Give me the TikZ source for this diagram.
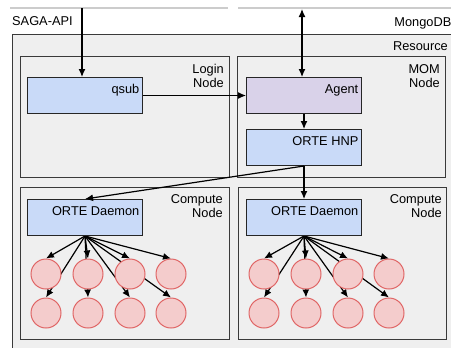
\documentclass[tikz,border=0pt]{standalone}
\usepackage{fontspec}
\setmainfont{Liberation Sans}
\usetikzlibrary{arrows.meta}
\pgfdeclarelayer{back}
\pgfdeclarelayer{mid}
\pgfsetlayers{back,mid,main}
\definecolor{panel}{HTML}{EFEFEF}
\definecolor{edge}{HTML}{3A3A3A}
\definecolor{bluebox}{HTML}{C9DAF8}
\definecolor{lilac}{HTML}{D9D2E9}
\definecolor{rosefill}{HTML}{F4CCCC}
\definecolor{rosedraw}{HTML}{E06666}
\definecolor{rule}{HTML}{CCCCCC}
\tikzset{
  frame/.style={draw=edge, fill=panel, line width=1bp},
  txt/.style={inner sep=0pt, align=right},
  procbox/.style={draw=black!85, fill=bluebox, line width=1bp, minimum width=115bp, minimum height=36bp, inner sep=0pt, anchor=north west},
  boxlbl/.style={label={[anchor=north east, inner sep=0pt, xshift=-3.5bp, yshift=-7.5bp]north east:#1}},
  proc/.style={draw=rosedraw, fill=rosefill, line width=1bp, circle, minimum size=30bp, inner sep=0pt},
  arr/.style={-{Latex[length=8bp,width=7bp]}, line width=1.2bp},
  darr/.style={{Latex[length=8bp,width=7bp]}-{Latex[length=8bp,width=7bp]}, line width=1.2bp},
  grayline/.style={draw=rule, line width=2.7bp}
}
\begin{document}
\begin{tikzpicture}[x=1bp, y=-1bp, font=\fontsize{12.8bp}{14bp}\selectfont]
\useasboundingbox (0,0) rectangle (451,347);
\clip (0,0) rectangle (451,347);
\begin{pgfonlayer}{back}
% top rules
\draw[grayline] (10,8) -- (228,8);
\draw[grayline] (238,8) -- (460,8);
% resource frame
\draw[frame] (12,34) rectangle (470,365);
% machine frames
\draw[frame] (20,56) rectangle (229,177);
\draw[frame] (237,56) rectangle (445,177);
\draw[frame] (20,187) rectangle (229,339);
\draw[frame] (238,187) rectangle (446,339);
\end{pgfonlayer}
\node[txt, anchor=north west] (sagalbl) at (12,16) {SAGA-API};
\node[txt, anchor=north east] (mongolbl) at (451.5,17) {MongoDB};
\node[txt, anchor=north east] (reslbl) at (448,41) {Resource};
\node[txt, anchor=north east] (loginlbl) at (224,64) {Login\\Node};
\node[txt, anchor=north east] (momlbl) at (440,64) {MOM\\Node};
\node[txt, anchor=north east] (comp1lbl) at (223,194) {Compute\\Node};
\node[txt, anchor=north east] (comp2lbl) at (442,194) {Compute\\Node};
% process boxes
\node[procbox, boxlbl=qsub] (qsub) at (27,77) {};
\node[procbox, fill=lilac, boxlbl=Agent] (agent) at (246,77) {};
\node[procbox, boxlbl=ORTE HNP] (hnp) at (246,129) {};
\node[procbox, boxlbl=ORTE Daemon] (d1) at (27,199) {};
\node[procbox, boxlbl=ORTE Daemon] (d2) at (246,199) {};
% connectors
\coordinate (saga) at (82,8);
\draw[arr] (saga) -- (saga |- qsub.north);
\coordinate (mongo) at (302,9);
\draw[darr] (mongo) -- (mongo |- agent.north);
\draw[arr] (qsub.east) -- (agent.west);
\draw[arr] (agent.south) -- (hnp.north);
\draw[arr] (hnp.south) -- (d2.north);
\draw[arr] (hnp.south) -- (d1.north);
% processes
\foreach \i/\x in {1/46,2/88,3/130,4/171} {
  \node[proc] (a\i) at (\x,274) {};
  \node[proc] (b\i) at (\x,313) {};
}
\foreach \i/\x in {1/264,2/306,3/348,4/389} {
  \node[proc] (c\i) at (\x,274) {};
  \node[proc] (e\i) at (\x,313) {};
}
\begin{pgfonlayer}{mid}
\foreach \i in {1,2,3,4} {
  \draw[arr] (d1.south) -- (a\i.north);
  \draw[arr] (d1.south) -- (b\i.north);
  \draw[arr] (d2.south) -- (c\i.north);
  \draw[arr] (d2.south) -- (e\i.north);
}
\end{pgfonlayer}
\end{tikzpicture}
\end{document}
